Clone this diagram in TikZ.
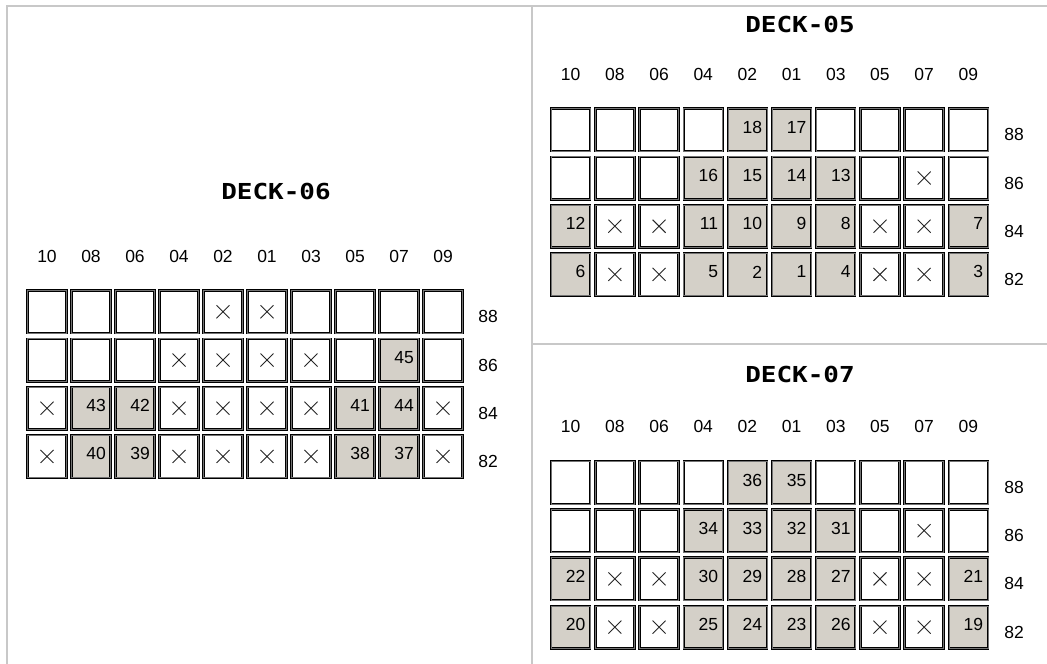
\documentclass[tikz,border=0pt]{standalone}
\usepackage{fontspec}
\setmainfont{Liberation Sans}
\newfontfamily\titlefont{DejaVu Sans Mono}
\usepackage{graphicx}
\usetikzlibrary{calc}
\definecolor{seatgray}{HTML}{D4D0C8}
\definecolor{framegray}{HTML}{C8C8C8}
\tikzset{
  seat/.style={draw=black, line width=0.9pt, double=black!55, double distance=0.6pt,
               minimum width=39pt, minimum height=42.6pt, inner sep=0pt, fill=white},
  taken/.style={seat, fill=seatgray},
  num/.style={font=\fontsize{17.5}{18}\selectfont, inner sep=0pt, anchor=east},
  lab/.style={font=\fontsize{17.5}{18}\selectfont, inner sep=0pt},
  xmark/.style={draw=black!85, line width=0.9pt},
  title/.style={font=\titlefont\bfseries\fontsize{22}{24}\selectfont, inner sep=0pt},
  frame/.style={draw=framegray, line width=2pt},
}
\newcommand\deckgrid[7]{%
  % #1 name, #2 x0, #3 y0, #4 col pitch, #5 row label x, #6 col label y, #7 data
  \foreach \c [count=\i from 0] in {10,08,06,04,02,01,03,05,07,09}
    \node[lab] (#1-col\i) at ({#2+20+#4*\i},{#6}) {\c};
  \foreach \r [count=\j from 0] in {88,86,84,82}
    \node[lab] (#1-row\j) at ({#5},{#3+27.5+48.2*\j}) {\r};
  \foreach \rowdata [count=\j from 0] in {#7} {
    \foreach \v [count=\i from 0] in \rowdata {
      \ifnum\v>0
        \node[taken] (#1-\j-\i) at ({#2+20+#4*\i},{#3+22.5+48.2*\j}) {};
        \node[num] (#1-\j-\i-n) at ($(#1-\j-\i.east)+(-5pt,2.5pt)$) {\v};
      \else
        \node[seat] (#1-\j-\i) at ({#2+20+#4*\i},{#3+22.5+48.2*\j}) {};
      \fi
      \ifnum\v<0
        \draw[xmark] ($(#1-\j-\i.center)+(-6.5pt,-6.5pt)$) -- ($(#1-\j-\i.center)+(6.5pt,6.5pt)$)
                     ($(#1-\j-\i.center)+(-6.5pt,6.5pt)$) -- ($(#1-\j-\i.center)+(6.5pt,-6.5pt)$);
      \fi
    }
  }
}
\begin{document}
\begin{tikzpicture}[x=1pt,y=-1pt]
\useasboundingbox (0,0) rectangle (1047,664);
\fill[white] (0,0) rectangle (1047,664);
% frame
\draw[frame] (1047,6) -- (7,6) -- (7,664);
\draw[frame] (532,6) -- (532,664);
\draw[frame] (532,344) -- (1047,344);
% titles
\node[title] (t6) at (276,191.7) {\scalebox{1.18}[1]{DECK-06}};
\node[title] (t5) at (800,24) {\scalebox{1.18}[1]{DECK-05}};
\node[title] (t7) at (800,374) {\scalebox{1.18}[1]{DECK-07}};
% DECK-06
\deckgrid{d6}{27}{289.3}{44}{488}{256.7}{%
  {0,0,0,0,-1,-1,0,0,0,0},
  {0,0,0,-1,-1,-1,-1,0,45,0},
  {-1,43,42,-1,-1,-1,-1,41,44,-1},
  {-1,40,39,-1,-1,-1,-1,38,37,-1}}
% DECK-05
\deckgrid{d5}{550.7}{107.3}{44.18}{1014}{74.5}{%
  {0,0,0,0,18,17,0,0,0,0},
  {0,0,0,16,15,14,13,0,-1,0},
  {12,-1,-1,11,10,9,8,-1,-1,7},
  {6,-1,-1,5,2,1,4,-1,-1,3}}
% DECK-07
\deckgrid{d7}{550.7}{460}{44.18}{1014}{426.7}{%
  {0,0,0,0,36,35,0,0,0,0},
  {0,0,0,34,33,32,31,0,-1,0},
  {22,-1,-1,30,29,28,27,-1,-1,21},
  {20,-1,-1,25,24,23,26,-1,-1,19}}
\end{tikzpicture}
\end{document}
